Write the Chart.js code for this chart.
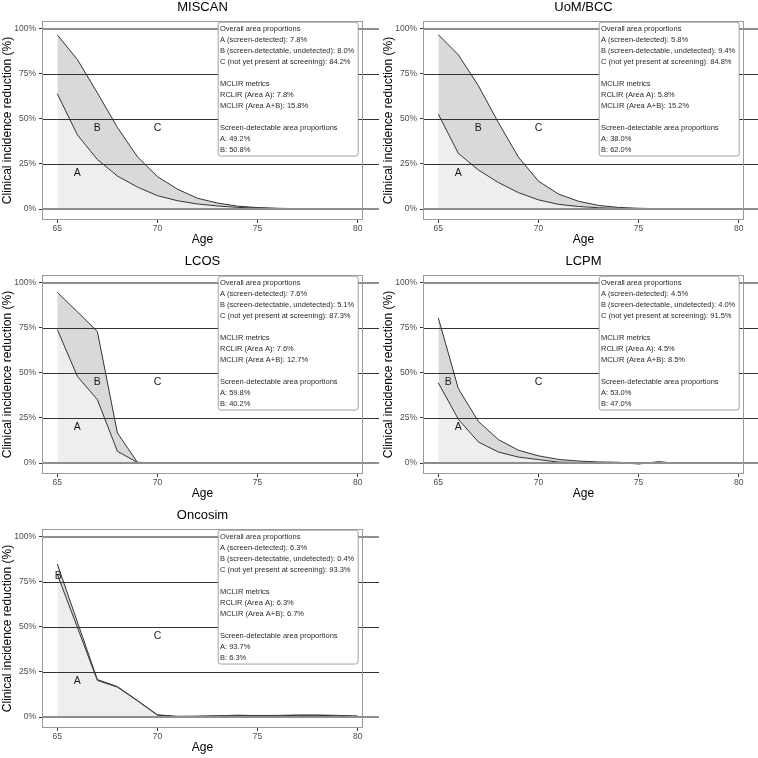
<!DOCTYPE html>
<html><head><meta charset="utf-8">
<script src="https://cdn.jsdelivr.net/npm/chart.js@4.4.1/dist/chart.umd.min.js"></script>
<style>
html,body{margin:0;padding:0;background:#fff;overflow:hidden;width:758px;height:758px}
.p{position:absolute}
canvas{display:block}
</style></head><body>
<div class="p" style="left:0;top:0"><canvas id="c0" width="379" height="254"></canvas></div>
<div class="p" style="left:381px;top:0"><canvas id="c1" width="377" height="254"></canvas></div>
<div class="p" style="left:0;top:254px"><canvas id="c2" width="379" height="254"></canvas></div>
<div class="p" style="left:381px;top:254px"><canvas id="c3" width="377" height="254"></canvas></div>
<div class="p" style="left:0;top:508px"><canvas id="c4" width="379" height="254"></canvas></div>
<script>
// ---------- data ----------
const X_TICKS = [65, 70, 75, 80];
const Y_TICKS = [0, 25, 50, 75, 100];
const TITLES = ['MISCAN', 'UoM/BCC', 'LCOS', 'LCPM', 'Oncosim'];

const AGES_MISCAN = [65,66,67,68,69,70,71,72,73,74,75,76,77,78,79];
const MISCAN_A  = [64.0, 41.2, 27.5, 18.3, 12.2, 7.4, 4.6, 2.8, 1.7, 0.9, 0.5, 0.3, 0.15, 0.1, 0.05];
const MISCAN_AB = [96.7, 83.0, 64.5, 45.3, 29.0, 18.0, 11.0, 6.0, 3.3, 1.6, 0.8, 0.4, 0.2, 0.1, 0.05];
const MISCAN_PROPS = [7.8, 8.0, 84.2, 7.8, 15.8, 49.2, 50.8];

const AGES_UOM = [65,66,67,68,69,70,71,72,73,74,75,76,77];
const UOM_A  = [52.7, 30.9, 21.7, 14.7, 9.1, 5.1, 2.6, 1.4, 0.7, 0.35, 0.2, 0.1, 0.05];
const UOM_AB = [96.8, 85.6, 68.5, 48.0, 28.8, 15.5, 8.3, 4.3, 2.0, 0.9, 0.4, 0.2, 0.1];
const UOM_PROPS = [5.8, 9.4, 84.8, 5.8, 15.2, 38.0, 62.0];

const AGES_LCOS = [65,66,67,68,69,70,71,72,73,74,75,76,77,78,79,80];
const LCOS_A  = [74.1, 48.1, 35.2, 6.5, 0.3, 0.05, 0, 0, 0, 0.05, 0.05, 0, 0, 0, 0.1, 0.1];
const LCOS_AB = [94.8, 84.0, 73.0, 16.7, 0.4, 0.1, 0.05, 0.05, 0.05, 0.1, 0.1, 0.05, 0.05, 0.05, 0.2, 0.2];
const LCOS_PROPS = [7.6, 5.1, 87.3, 7.6, 12.7, 59.8, 40.2];

const AGES_LCPM = [65,66,67,68,69,70,71,72,73,74,75,76,77,78,79,80];
const LCPM_A  = [44.5, 24.3, 11.7, 6.1, 3.3, 1.9, 0.5, 0.3, 0.2, 0.2, -0.5, 0.5, -0.2, 0, 0, 0];
const LCPM_AB = [80.6, 41.3, 23.1, 13.0, 7.1, 4.0, 2.0, 1.1, 0.6, 0.4, -0.4, 0.7, -0.2, 0, 0, 0];
const LCPM_PROPS = [4.5, 4.0, 91.5, 4.5, 8.5, 53.0, 47.0];

const AGES_ONCOSIM = [65,66,67,68,69,70,71,72,73,74,75,76,77,78,79,80];
const ONCOSIM_A  = [79.2, 49.8, 20.3, 16.6, 9.0, 1.0, 0.2, 0.3, 0.5, 0.8, 0.6, 0.7, 0.9, 0.9, 0.7, 0.4];
const ONCOSIM_AB = [85.0, 52.8, 20.8, 16.9, 9.2, 1.2, 0.4, 0.5, 0.7, 1.0, 0.8, 0.9, 1.1, 1.1, 0.9, 0.5];
const ONCOSIM_PROPS = [6.3, 0.4, 93.3, 6.3, 6.7, 93.7, 6.3];

// region label anchors (age, %)
const LABELS_STD    = [['A', 66, 20], ['B', 67, 45], ['C', 70, 45]];
const LABELS_LCPM   = [['A', 66, 20], ['B', 65.5, 45], ['C', 70, 45]];
const LABELS_ONCO   = [['A', 66, 20], ['B', 65.05, 78], ['C', 70, 45]];

const MODELS = [
  {ages: AGES_MISCAN, a: MISCAN_A, ab: MISCAN_AB, props: MISCAN_PROPS, labels: LABELS_STD, right: 16},
  {ages: AGES_UOM, a: UOM_A, ab: UOM_AB, props: UOM_PROPS, labels: LABELS_STD, right: 14},
  {ages: AGES_LCOS, a: LCOS_A, ab: LCOS_AB, props: LCOS_PROPS, labels: LABELS_STD, right: 16},
  {ages: AGES_LCPM, a: LCPM_A, ab: LCPM_AB, props: LCPM_PROPS, labels: LABELS_LCPM, right: 14},
  {ages: AGES_ONCOSIM, a: ONCOSIM_A, ab: ONCOSIM_AB, props: ONCOSIM_PROPS, labels: LABELS_ONCO, right: 16}
];

function boxLines(p) {
  const f = v => v.toFixed(1) + '%';
  return [
    'Overall area proportions',
    'A (screen-detected): ' + f(p[0]),
    'B (screen-detectable, undetected): ' + f(p[1]),
    'C (not yet present at screening): ' + f(p[2]),
    '',
    'MCLIR metrics',
    'RCLIR (Area A): ' + f(p[3]),
    'MCLIR (Area A+B): ' + f(p[4]),
    '',
    'Screen-detectable area proportions',
    'A: ' + f(p[5]),
    'B: ' + f(p[6])
  ];
}

const FONT = '"Liberation Sans", Arial, Helvetica, sans-serif';
Chart.defaults.font.family = FONT;

const deco = {
  id: 'deco',
  afterDatasetsDraw(chart, args, opts) {
    const {ctx, chartArea: a, scales: {x, y}} = chart;
    ctx.save();
    // horizontal reference lines on top of the fills
    Y_TICKS.forEach(v => {
      const py = y.getPixelForValue(v);
      const edge = (v === 0 || v === 100);
      ctx.strokeStyle = edge ? '#8e8e8e' : '#333333';
      ctx.lineWidth = edge ? 2 : 1;
      const yy = edge ? Math.round(py) : Math.round(py) + 0.5;
      ctx.beginPath(); ctx.moveTo(a.left, yy); ctx.lineTo(chart.width, yy); ctx.stroke();
    });
    // region labels
    ctx.fillStyle = '#1a1a1a';
    ctx.font = '10.5px ' + FONT;
    ctx.textAlign = 'center'; ctx.textBaseline = 'middle';
    opts.labels.forEach(([t, lx, ly]) => {
      ctx.fillText(t, x.getPixelForValue(lx), y.getPixelForValue(ly));
    });
    // text box
    const lines = opts.lines;
    const bw = 140, lh = 11.07, bh = lines.length * lh + 1;
    const br = x.getPixelForValue(80);
    const bl = br - bw;
    const bt = y.getPixelForValue(104);
    ctx.beginPath();
    ctx.roundRect(bl + 0.5, bt + 0.5, bw, bh, 2.5);
    ctx.fillStyle = '#ffffff'; ctx.fill();
    ctx.strokeStyle = '#8a8a8a'; ctx.lineWidth = 0.8; ctx.stroke();
    ctx.fillStyle = '#2a2a2a';
    ctx.font = '7.5px ' + FONT;
    ctx.textAlign = 'left'; ctx.textBaseline = 'middle';
    lines.forEach((t, i) => { if (t) ctx.fillText(t, bl + 2.3, bt + 6.8 + i * lh); });
    ctx.restore();
  },
  afterDraw(chart, args, opts) {
    const {ctx, chartArea: a} = chart;
    ctx.save();
    ctx.strokeStyle = '#9a9a9a'; ctx.lineWidth = 1;
    ctx.strokeRect(a.left + 0.5, a.top + 0.5, a.width - 1, a.height - 1);
    ctx.fillStyle = '#000';
    ctx.textAlign = 'center'; ctx.textBaseline = 'middle';
    const cx = (a.left + a.right) / 2;
    ctx.font = '13px ' + FONT;
    ctx.fillText(opts.title, cx, 7.8);
    ctx.font = '12px ' + FONT;
    ctx.fillText('Age', cx, 239.5);
    ctx.translate(7.8, (a.top + a.bottom) / 2);
    ctx.rotate(-Math.PI / 2);
    ctx.fillText('Clinical incidence reduction (%)', 0, 0);
    ctx.restore();
  }
};

MODELS.forEach((m, k) => {
  const ptsA = m.ages.map((age, i) => ({x: age, y: m.a[i]}));
  const ptsAB = m.ages.map((age, i) => ({x: age, y: m.ab[i]}));
  new Chart(document.getElementById('c' + k), {
    type: 'line',
    data: {
      datasets: [
        {data: ptsA, borderColor: '#333333', borderWidth: 1, backgroundColor: '#eeeeee',
         fill: 'origin', pointRadius: 0, tension: 0},
        {data: ptsAB, borderColor: '#333333', borderWidth: 1, backgroundColor: '#d9d9d9',
         fill: '-1', pointRadius: 0, tension: 0}
      ]
    },
    options: {
      responsive: false, animation: false, events: [],
      layout: {padding: {left: 0, top: 21, right: m.right, bottom: 0}},
      plugins: {
        legend: {display: false}, tooltip: {enabled: false}, title: {display: false},
        deco: {title: TITLES[k], lines: boxLines(m.props), labels: m.labels}
      },
      scales: {
        x: {
          type: 'linear', min: 64.235, max: 80.265,
          afterBuildTicks: s => { s.ticks = X_TICKS.map(v => ({value: v})); },
          afterFit: s => { s.height = 34; },
          grid: {display: true, drawOnChartArea: false, drawTicks: true, tickLength: 3, tickColor: '#333333', tickWidth: 1},
          border: {display: false},
          ticks: {autoSkip: false, maxRotation: 0, padding: 1, color: '#4d4d4d', font: {size: 8.5}}
        },
        y: {
          type: 'linear', min: -6.1, max: 104.4,
          afterBuildTicks: s => { s.ticks = Y_TICKS.map(v => ({value: v})); },
          afterFit: s => { s.width = 42; },
          grid: {display: true, drawOnChartArea: false, drawTicks: true, tickLength: 3, tickColor: '#333333', tickWidth: 1},
          border: {display: false},
          ticks: {padding: 3, color: '#4d4d4d', font: {size: 8.5}, callback: v => v + '%'}
        }
      }
    },
    plugins: [deco]
  });
});
</script>
</body></html>
